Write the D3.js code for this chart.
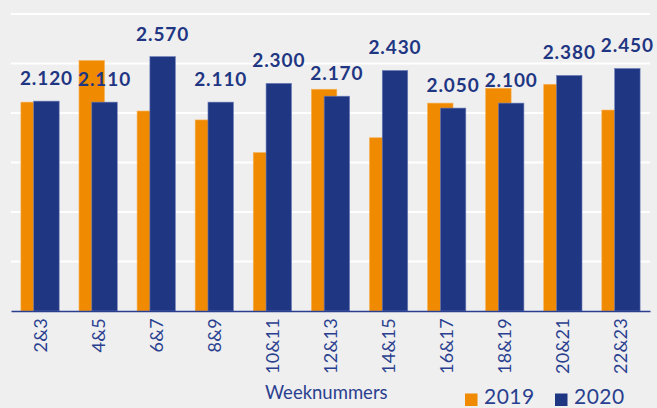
<!DOCTYPE html>
<html>
<head>
<meta charset="utf-8">
<script src="https://cdn.jsdelivr.net/npm/d3@7"></script>
<style>
html,body{margin:0;padding:0;background:#efefef;}
svg{display:block;}
</style>
</head>
<body>
<svg id="chart" width="657" height="408"></svg>
<script>
const categories = ["2&3","4&5","6&7","8&9","10&11","12&13","14&15","16&17","18&19","20&21","22&23"];
const values2019 = [2110, 2530, 2020, 1930, 1600, 2240, 1750, 2100, 2250, 2290, 2030];
const values2020 = [2120, 2110, 2570, 2110, 2300, 2170, 2430, 2050, 2100, 2380, 2450];
const yTicks = [0, 500, 1000, 1500, 2000, 2500, 3000];
const seriesNames = ["2019", "2020"];

const W = 657, H = 408;
const orange = "#f08a00", blue = "#1f3683", textBlue = "#2a3f8f";
const svg = d3.select("#chart");
svg.append("rect").attr("width", W).attr("height", H).attr("fill", "#efefef");

const x = d3.scaleBand().domain(categories).range([11, 650]).padding(0);
const y = d3.scaleLinear().domain([0, 3000]).range([311, 14]);

// gridlines
svg.append("g").selectAll("line").data(yTicks.filter(t => t > 0)).join("line")
  .attr("x1", 11).attr("x2", 650)
  .attr("y1", d => y(d)).attr("y2", d => y(d))
  .attr("stroke", "#ffffff").attr("stroke-width", 2);

const bw = 25.5, off = 6.4;
const cx = d => x(d) + x.bandwidth() / 2;

svg.append("g").selectAll("rect").data(categories).join("rect")
  .attr("x", (d) => cx(d) - off - bw / 2)
  .attr("y", (d, i) => y(values2019[i]))
  .attr("width", bw)
  .attr("height", (d, i) => y(0) - y(values2019[i]))
  .attr("fill", orange).attr("stroke", "#f6b25a").attr("stroke-width", 0.6);

svg.append("g").selectAll("rect").data(categories).join("rect")
  .attr("x", (d) => cx(d) + off - bw / 2)
  .attr("y", (d, i) => y(values2020[i]))
  .attr("width", bw)
  .attr("height", (d, i) => y(0) - y(values2020[i]))
  .attr("fill", blue).attr("stroke", "#7282bb").attr("stroke-width", 0.6);

// value labels for 2020
const fmt = v => d3.format(".3f")(v / 1000);
svg.append("g").selectAll("text").data(categories).join("text")
  .attr("x", d => cx(d) + off)
  .attr("y", (d, i) => y(values2020[i]) - 16)
  .attr("text-anchor", "middle")
  .attr("font-family", "Lato, sans-serif")
  .attr("font-weight", "bold")
  .attr("font-size", 19)
  .attr("letter-spacing", 0.9)
  .attr("fill", blue)
  .text((d, i) => fmt(values2020[i]));

// x axis
const xAxis = d3.axisBottom(x).tickSize(0).tickPadding(0);
const gx = svg.append("g").attr("transform", "translate(0,311)").call(xAxis);
gx.select(".domain").attr("stroke", "#2a3f8f").attr("stroke-width", 1.5);
gx.selectAll(".tick text")
  .attr("transform", "translate(0,7) rotate(-90)")
  .attr("x", 0).attr("y", 0).attr("dy", "0.36em")
  .attr("text-anchor", "end")
  .attr("font-family", "Lato, sans-serif")
  .attr("font-size", 18)
  .attr("letter-spacing", 0.3)
  .attr("fill", textBlue);

// axis title
svg.append("text").attr("x", 265).attr("y", 399)
  .attr("font-family", "Lato, sans-serif").attr("font-size", 18.5)
  .attr("fill", textBlue).text("Weeknummers");

// legend
const legend = svg.append("g");
const legX = [465, 555];
const legColors = [orange, blue];
seriesNames.forEach((s, i) => {
  legend.append("rect").attr("x", legX[i]).attr("y", 393.5)
    .attr("width", 12.5).attr("height", 12.5).attr("fill", legColors[i]);
  legend.append("text").attr("x", legX[i] + 19).attr("y", 404)
    .attr("font-family", "Lato, sans-serif").attr("font-size", 21)
    .attr("letter-spacing", 0.5)
    .attr("fill", textBlue).text(s);
});
</script>
</body>
</html>
